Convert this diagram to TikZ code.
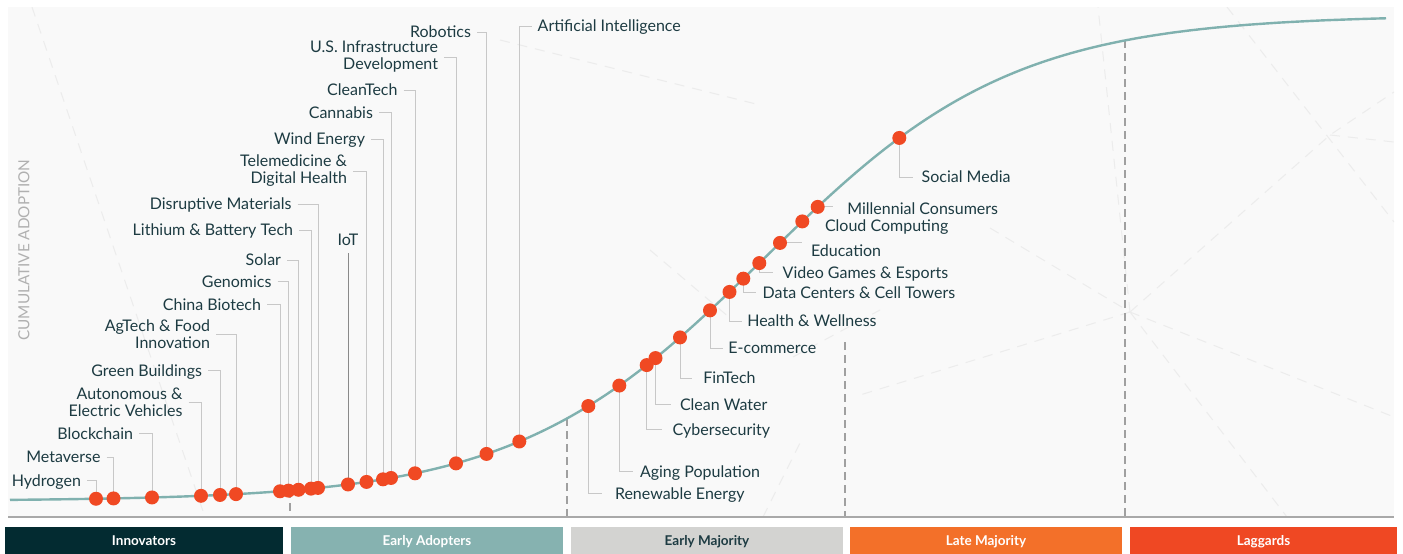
\documentclass[tikz,border=0pt]{standalone}
\usepackage{fontspec}
\setmainfont{Lato}
\definecolor{txt}{HTML}{1D3B42}
\definecolor{panelc}{HTML}{F9F9F9}
\definecolor{curvec}{HTML}{80B1AF}
\definecolor{dotc}{HTML}{F04923}
\definecolor{leadc}{HTML}{C8C8C8}
\definecolor{iotc}{HTML}{8A8A8A}
\definecolor{divc}{HTML}{A0A0A0}
\definecolor{axisc}{HTML}{A9A9A9}
\definecolor{ylabc}{HTML}{B0B0B0}
\definecolor{decoc}{HTML}{ECECEC}
\definecolor{cinn}{HTML}{032B31}
\definecolor{cea}{HTML}{86B2B0}
\definecolor{cem}{HTML}{D3D3D1}
\definecolor{clm}{HTML}{F37029}
\definecolor{clg}{HTML}{EF4823}
\begin{document}
\begin{tikzpicture}[x=1pt,y=-1pt,
  declare function={fy(\x)=501-486/(1+exp(-(\x-764.5)/124.5));},
  lab/.style={text=txt, font=\fontsize{16}{17}\selectfont, inner sep=0pt, text height=11.5pt, text depth=0pt},
  labm/.style={text=txt, font=\fontsize{16}{17}\selectfont, inner sep=0pt, align=right, anchor=east, outer xsep=6pt},
  labl/.style={lab, anchor=east, outer xsep=6pt},
  labr/.style={lab, anchor=west},
  leader/.style={draw=leadc, line width=1pt},
  dot/.style={circle, fill=dotc, inner sep=0pt, minimum size=14pt},
  curve/.style={draw=curvec, line width=2.4pt},
  divider/.style={draw=divc, line width=1.8pt, dash pattern=on 8pt off 5pt},
  deco/.style={draw=decoc, line width=1pt, dash pattern=on 10pt off 8pt},
  bar/.style={minimum height=28pt, inner sep=0pt, text height=9.5pt, text depth=0pt, font=\fontsize{13.5}{14}\selectfont\bfseries, text=white},
]
% canvas
\useasboundingbox (0,0) rectangle (1403,554);
\fill[white] (0,0) rectangle (1403,554);
\fill[panelc] (8,7) rectangle (1394,517);

% faint decorative network lines
\begin{scope}
\clip (8,7) rectangle (1394,517);
\coordinate (h1) at (1130,312);
\coordinate (h2) at (1330,135);
\draw[deco] (h1) -- (1098,7);
\draw[deco] (h1) -- (h2) -- (1394,92);
\draw[deco] (1227,7) -- (1394,222);
\draw[deco] (h2) -- (1394,142);
\draw[deco] (h1) -- (1394,417);
\draw[deco] (h1) -- (1287,517);
\draw[deco] (h1) -- (1007,350) -- (860,395);
\draw[deco] (990,228) -- (h1);
\draw[deco] (32,7) -- (205,517);
\draw[deco] (500,40) -- (760,105);
\draw[deco] (650,250) -- (730,318);
\draw[deco] (763,517) -- (800,443);
\draw[deco] (793,357) -- (880,310);
\end{scope}

% dot coordinates
\foreach \i/\xx in {1/96,2/113.5,3/152,4/201,5/220,6/236,7/280,8/288.5,9/298.5,10/311,11/318,12/348,13/366.5,14/383,15/391,16/415,17/456,18/486.5,19/519.3,20/588.3,21/619.3,22/646.7,23/655.5,24/680,25/710,26/729.5,27/743.3,28/759.3,29/780,30/802.3,31/817.7,32/899.3}
  {\coordinate (p\i) at (\xx,{fy(\xx)});}

% dividers
\coordinate (v1t) at (290,{fy(290)}); \coordinate (v1b) at (290,517);
\coordinate (v2t) at (567,{fy(567)}); \coordinate (v2b) at (567,517);
\coordinate (v3t) at (845,342); \coordinate (v3b) at (845,517);
\coordinate (v4t) at (1125,{fy(1125)}); \coordinate (v4b) at (1125,517);
\draw[divider] (v1t) -- (v1b);
\draw[divider] (v2t) -- (v2b);
\draw[divider] (v3t) -- (v3b);
\draw[divider] (v4t) -- (v4b);

% axis
\draw[draw=axisc, line width=2pt] (8,517) -- (1394,517);

% y axis label
\node[rotate=90, text=ylabc, font=\fontsize{15.3}{16}\selectfont, inner sep=0pt] (ylab) at (24,250) {CUMULATIVE ADOPTION};

% left labels
\node[labl] (l1) at (87,480.7) {Hydrogen};
\node[labl] (l2) at (106.5,457) {Metaverse};
\node[labl] (l3) at (139,433.3) {Blockchain};
\node[labm] (l4) at (188.5,402.5) {Autonomous \&\\Electric Vehicles};
\node[labl] (l5) at (208,370.7) {Green Buildings};
\node[labm] (l6) at (216,334) {AgTech \& Food\\Innovation};
\node[labl] (l7) at (267,304.5) {China Biotech};
\node[labl] (l8) at (277.5,281.5) {Genomics};
\node[labl] (l9) at (287,260) {Solar};
\node[labl] (l10) at (299,230) {Lithium \& Battery Tech};
\node[labl] (l11) at (297.5,204) {Disruptive Materials};
\node[lab, outer ysep=8pt] (l12) at (348,239.3) {IoT};
\node[labm] (l13) at (353,171) {Telemedicine \&\\Digital Health};
\node[labl] (l14) at (371,139) {Wind Energy};
\node[labl] (l15) at (379,112.7) {Cannabis};
\node[labl] (l16) at (403.5,90) {CleanTech};
\node[labm] (l17) at (444,57) {U.S. Infrastructure\\Development};
\node[labl] (l18) at (477,32) {Robotics};
\node[labr, outer xsep=6pt] (l19) at (531.7,26) {Artificial Intelligence};

% right labels
\node[labr, outer xsep=13.3pt] (l20) at (601.7,493.5) {Renewable Energy};
\node[labr, outer xsep=6.7pt] (l21) at (633.3,471.7) {Aging Population};
\node[labr, outer xsep=11pt] (l22) at (661.7,429.5) {Cybersecurity};
\node[labr, outer xsep=9pt] (l23) at (671,404.3) {Clean Water};
\node[labr, outer xsep=11.6pt] (l24) at (691.7,378) {FinTech};
\node[labr, outer xsep=5pt] (l25) at (723.3,348) {E-commerce};
\node[labr, outer xsep=5.6pt] (l26) at (741.7,321) {Health \& Wellness};
\node[labr, outer xsep=6.7pt] (l27) at (756,292.7) {Data Centers \& Cell Towers};
\node[labr, outer xsep=10pt] (l28) at (772.7,272.5) {Video Games \& Esports};
\node[labr, outer xsep=9.3pt] (l29) at (801.7,251) {Education};
\node[labr, outer xsep=15.7pt] (l30) at (809.3,226) {Cloud Computing};
\node[labr, outer xsep=14.3pt] (l31) at (833,209) {Millennial Consumers};
\node[labr, outer xsep=8.4pt] (l32) at (913.3,177) {Social Media};

% leaders (left side)
\foreach \i in {1,2,3,4,5,6,7,8,9,10,11,13,14,15,16,17,18}
  {\draw[leader] (l\i.east) -| (p\i);}
\draw[leader] (l19.west) -| (p19);
\draw[draw=iotc, line width=1pt] (l12.south) -- (p12);
% leaders (right side)
\foreach \i in {20,21,22,23,24,25,26,27,28,32}
  {\draw[leader] (p\i) |- (l\i.west);}
\foreach \i in {29,30,31}
  {\draw[leader] (p\i) -- (p\i -| l\i.west);}

% curve
\draw[curve] plot[domain=10:1386, samples=300, smooth] (\x,{fy(\x)});

% dots
\foreach \i in {1,...,32}
  {\node[dot] (d\i) at (p\i) {};}

% phase bars
\node[bar, fill=cinn, minimum width=278pt] (b1) at (144,541) {Innovators};
\node[bar, fill=cea, minimum width=272pt] (b2) at (427,541) {Early Adopters};
\node[bar, fill=cem, minimum width=272pt, text=txt] (b3) at (707,541) {Early Majority};
\node[bar, fill=clm, minimum width=272pt] (b4) at (986,541) {Late Majority};
\node[bar, fill=clg, minimum width=267pt] (b5) at (1263.5,541) {Laggards};
\end{tikzpicture}
\end{document}
